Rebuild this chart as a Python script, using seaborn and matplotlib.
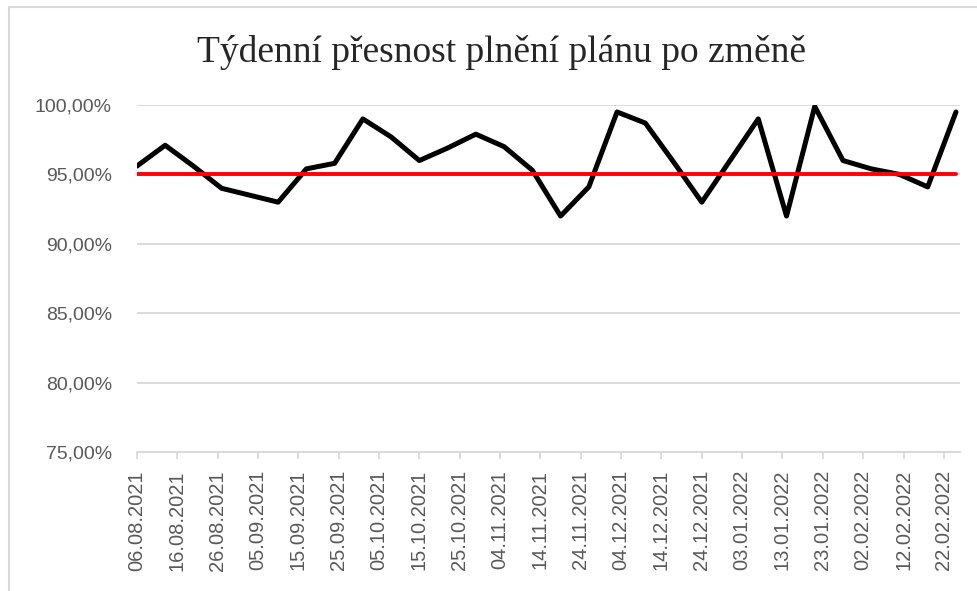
import pandas as pd
import matplotlib.pyplot as plt
import matplotlib.dates as mdates
from matplotlib.ticker import FuncFormatter
from matplotlib.lines import Line2D
import seaborn as sns

# weekly values
dates = pd.date_range('2021-08-06', '2022-02-25', freq='7D')
accuracy = [95.6, 97.1, 95.6, 94.0, 93.5, 93.0, 95.4, 95.8, 99.0, 97.7,
            96.0, 96.9, 97.9, 97.0, 95.3, 92.0, 94.1, 99.5, 98.7, 95.9,
            93.0, 96.0, 99.0, 92.0, 99.9, 96.0, 95.4, 95.0, 94.1, 99.5]
target = [95.0] * len(dates)

df = pd.DataFrame({'datum': dates, 'presnost': accuracy, 'cil': target})

sns.set_style('white')
plt.rcParams['font.family'] = ['Liberation Sans', 'DejaVu Sans']

fig = plt.figure(figsize=(9.78, 5.91), dpi=100)
ax = fig.add_axes([0.140, 0.2352, 0.8416, 0.5871])

sns.lineplot(data=df, x='datum', y='presnost', color='black', linewidth=3.6, ax=ax)
sns.lineplot(data=df, x='datum', y='cil', color='#ff0000', linewidth=2.8, ax=ax)

ax.set_ylim(75, 100)
ax.set_yticks([75, 80, 85, 90, 95, 100])
ax.yaxis.set_major_formatter(FuncFormatter(lambda v, p: f'{v:.2f}'.replace('.', ',') + '%'))
ax.set_xlim(pd.Timestamp('2021-08-06'), pd.Timestamp('2022-02-26'))
ax.set_xticks(pd.date_range('2021-08-06', '2022-02-22', freq='10D'))
ax.xaxis.set_major_formatter(mdates.DateFormatter('%d.%m.%Y'))
plt.setp(ax.get_xticklabels(), rotation=90)

ax.grid(axis='y', color='#d9d9d9', linewidth=1.3)
ax.set_axisbelow(True)
for s in ['top', 'right', 'left']:
    ax.spines[s].set_visible(False)
ax.spines['bottom'].set_color('#d9d9d9')
ax.spines['bottom'].set_linewidth(1.3)
ax.tick_params(axis='x', length=5, width=1.3, color='#d9d9d9', labelsize=14.5,
               labelcolor='#595959', pad=8, bottom=True)
ax.tick_params(axis='y', length=0, labelsize=14, labelcolor='#595959', pad=18)
ax.set_xlabel('')
ax.set_ylabel('')

fig.text(0.513, 0.912, 'Týdenní přesnost plnění plánu po změně', ha='center', va='center',
         fontsize=27, family=['Liberation Serif', 'DejaVu Serif'])

# chart area border
fig.add_artist(Line2D([9 / 978, 1], [1 - 7 / 591] * 2, color='#d9d9d9', linewidth=1.5))
fig.add_artist(Line2D([9 / 978] * 2, [0, 1 - 7 / 591], color='#d9d9d9', linewidth=1.5))

fig.savefig('out.png', dpi=100)
